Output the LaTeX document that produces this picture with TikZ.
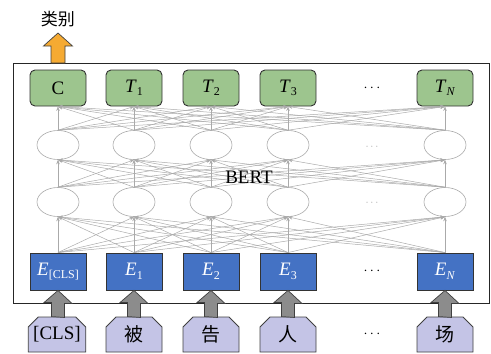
\documentclass[tikz,border=0pt]{standalone}
\usepackage{fontspec}
\setmainfont{Liberation Serif}
\newfontfamily\cjk{Noto Sans CJK SC}
\usetikzlibrary{arrows.meta,shapes.misc,shapes.geometric}
\definecolor{topgreen}{RGB}{157,197,142}
\definecolor{ebblue}{RGB}{68,114,196}
\definecolor{wlav}{RGB}{196,196,230}
\definecolor{orng}{RGB}{245,170,50}
\definecolor{fgray}{RGB}{140,140,140}
\definecolor{lgray}{RGB}{170,170,170}
\newcommand\sbs[1]{\raisebox{-0.4ex}{\fontsize{12}{12}\selectfont #1}}
\begin{document}
\begin{tikzpicture}[x=1pt,y=-1pt,
  tbox/.style={draw=black!80, line width=0.9pt, fill=topgreen, rounded corners=5pt,
    minimum width=56pt, minimum height=36pt, inner sep=0pt, font=\fontsize{19}{19}\selectfont},
  ebox/.style={draw=black!80, line width=0.9pt, fill=ebblue, minimum width=56pt,
    minimum height=37pt, inner sep=0pt, text=white, font=\fontsize{19}{19}\selectfont},
  hid/.style={draw=lgray, ellipse, minimum width=42pt, minimum height=29pt, inner sep=0pt, line width=0.6pt},
  wbox/.style={chamfered rectangle, chamfered rectangle corners={north west,north east},
    chamfered rectangle xsep=5pt, chamfered rectangle ysep=5pt,
    draw=black!75, line width=0.9pt, fill=wlav, minimum width=56pt, minimum height=35pt,
    inner sep=0pt, font=\fontsize{19}{19}\selectfont},
  conn/.style={draw=lgray, line width=0.5pt, -{Stealth[length=4.5pt,width=3.5pt]}},
  fat/.style={draw=black!75, line width=0.7pt, fill=fgray},
  fato/.style={draw=black!75, line width=0.7pt, fill=orng},
  dotsl/.style={font=\fontsize{14}{14}\selectfont},
  dotsh/.style={text=lgray, font=\fontsize{11}{11}\selectfont},
]
\useasboundingbox (0,0) rectangle (491,354);
\node[draw=black!85, line width=0.9pt, minimum width=476pt, minimum height=240pt, inner sep=0pt, anchor=north west] (frame) at (13,63) {};

% top row
\node[tbox] (t1) at (58,88) {C};
\node[tbox] (t2) at (134,88) {\textit{T}\sbs{1}};
\node[tbox] (t3) at (211,88) {\textit{T}\sbs{2}};
\node[tbox] (t4) at (288,88) {\textit{T}\sbs{3}};
\node[tbox] (t5) at (445,88) {\textit{T}\sbs{\textit{N}}};
\node[dotsl] (tdots) at (372,88) {$\cdots$};

% hidden rows
\foreach \n/\x in {1/58,2/134,3/211,4/288,5/445} {
  \node[hid] (a\n) at (\x,145) {};
  \node[hid] (b\n) at (\x,202) {};
}
\node[dotsh] (adots) at (372,147) {$\cdots$};
\node[dotsh] (bdots) at (372,203) {$\cdots$};

% embedding row
\node[ebox] (e1) at (58,271.5) {\textit{E}\sbs{[CLS]}};
\node[ebox] (e2) at (134,271.5) {\textit{E}\sbs{1}};
\node[ebox] (e3) at (211,271.5) {\textit{E}\sbs{2}};
\node[ebox] (e4) at (288,271.5) {\textit{E}\sbs{3}};
\node[ebox] (e5) at (445,271.5) {\textit{E}\sbs{\textit{N}}};
\node[dotsl] (edots) at (372,271.5) {$\cdots$};

% word row
\node[wbox] (w1) at (57,334.5) {[CLS]};
\node[wbox] (w2) at (134,334.5) {\cjk 被};
\node[wbox] (w3) at (211,334.5) {\cjk 告};
\node[wbox] (w4) at (288,334.5) {\cjk 人};
\node[wbox] (w5) at (445,334.5) {\cjk 场};
\node[dotsl] (wdots) at (372,334.5) {$\cdots$};

% connections
\foreach \i in {1,...,5} {
  \foreach \j in {1,...,5} {
    \draw[conn] (e\i.north) -- (b\j.south);
    \draw[conn] (b\i.north) -- (a\j.south);
    \draw[conn] (a\i.north) -- (t\j.south);
  }
}

\node[font=\fontsize{19}{19}\selectfont, inner sep=1pt] (bert) at (249,177) {BERT};

% fat gray arrows
\foreach \i in {1,...,5} {
  \draw[fat] (w\i.north -| e\i.south) +(-6.5,0) -- +(-6.5,-14) -- +(-14,-14) -- (e\i.south)
     -- +(14,13) -- +(6.5,13) -- +(6.5,27) -- cycle;
}

% output label and arrow
\node[font=\cjk\fontsize{17}{17}\selectfont, inner sep=0pt] (lbl) at (58,19) {类别};
\coordinate (otip) at (58,33);
\draw[fato] (t1.north |- frame.north) +(-7,0) -- +(-7,-17) -- +(-14.5,-17) -- (otip)
   -- +(14.5,13) -- +(7,13) -- +(7,30) -- cycle;
\end{tikzpicture}
\end{document}
